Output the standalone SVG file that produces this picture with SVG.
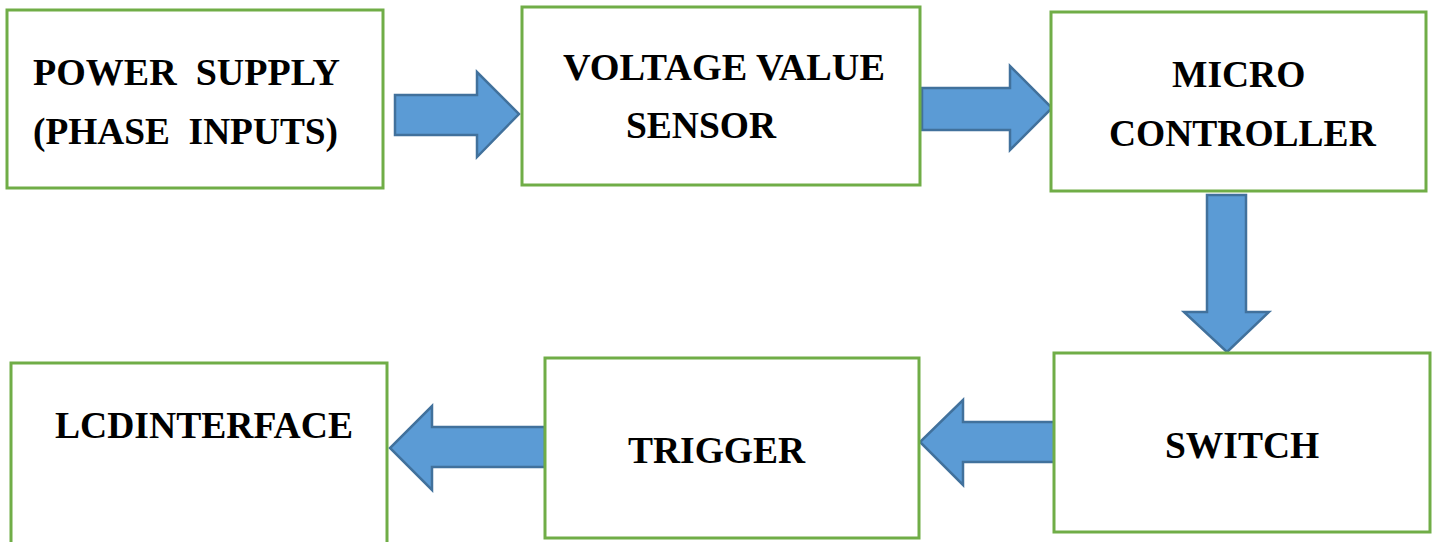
<svg xmlns="http://www.w3.org/2000/svg" width="1437" height="542" viewBox="0 0 1437 542">
<style>
.box{fill:#fff;stroke:#70AD47;stroke-width:3}
.arr{fill:#5B9BD5;stroke:#41719C;stroke-width:2.5;stroke-linejoin:miter}
.t{font-family:'Liberation Serif','DejaVu Serif',serif;font-weight:700;font-size:37.5px;fill:#000}
</style>
<rect width="1437" height="542" fill="#fff"/>
<g id="connectors">
<polygon class="arr" points="395,95 477,95 477,72 519,114 477,157 477,135 395,135"/>
<polygon class="arr" points="922,88 1010,88 1010,66 1052,108 1010,150 1010,130 922,130"/>
<polygon class="arr" points="1207,195 1246,195 1246,312 1269,312 1227,352 1184,312 1207,312"/>
<polygon class="arr" points="1057,422 963,422 963,400 920,442 963,485 963,462 1057,462"/>
<polygon class="arr" points="545,427 432,427 432,406 390,448 432,490 432,467 545,467"/>
</g>
<g id="power-supply">
<rect class="box" x="7" y="10" width="376" height="178"/>
<text class="t" x="33" y="85" xml:space="preserve" textLength="307" lengthAdjust="spacingAndGlyphs">POWER  SUPPLY</text>
<text class="t" x="33" y="144" xml:space="preserve" textLength="305" lengthAdjust="spacingAndGlyphs">(PHASE  INPUTS)</text>
</g>
<g id="voltage-sensor">
<rect class="box" x="522" y="7" width="398" height="178"/>
<text class="t" x="563" y="80" textLength="322" lengthAdjust="spacingAndGlyphs">VOLTAGE VALUE</text>
<text class="t" x="626" y="138">SENSOR</text>
</g>
<g id="microcontroller">
<rect class="box" x="1051" y="12" width="375" height="179"/>
<text class="t" x="1172" y="87">MICRO</text>
<text class="t" x="1109" y="146">CONTROLLER</text>
</g>
<g id="switch">
<rect class="box" x="1054" y="353" width="376" height="179"/>
<text class="t" x="1165" y="458">SWITCH</text>
</g>
<g id="trigger">
<rect class="box" x="545" y="358" width="374" height="180"/>
<text class="t" x="628" y="463">TRIGGER</text>
</g>
<g id="lcd-interface">
<rect class="box" x="11" y="363" width="376" height="185"/>
<text class="t" x="55" y="438" textLength="298" lengthAdjust="spacingAndGlyphs">LCDINTERFACE</text>
</g>
</svg>
